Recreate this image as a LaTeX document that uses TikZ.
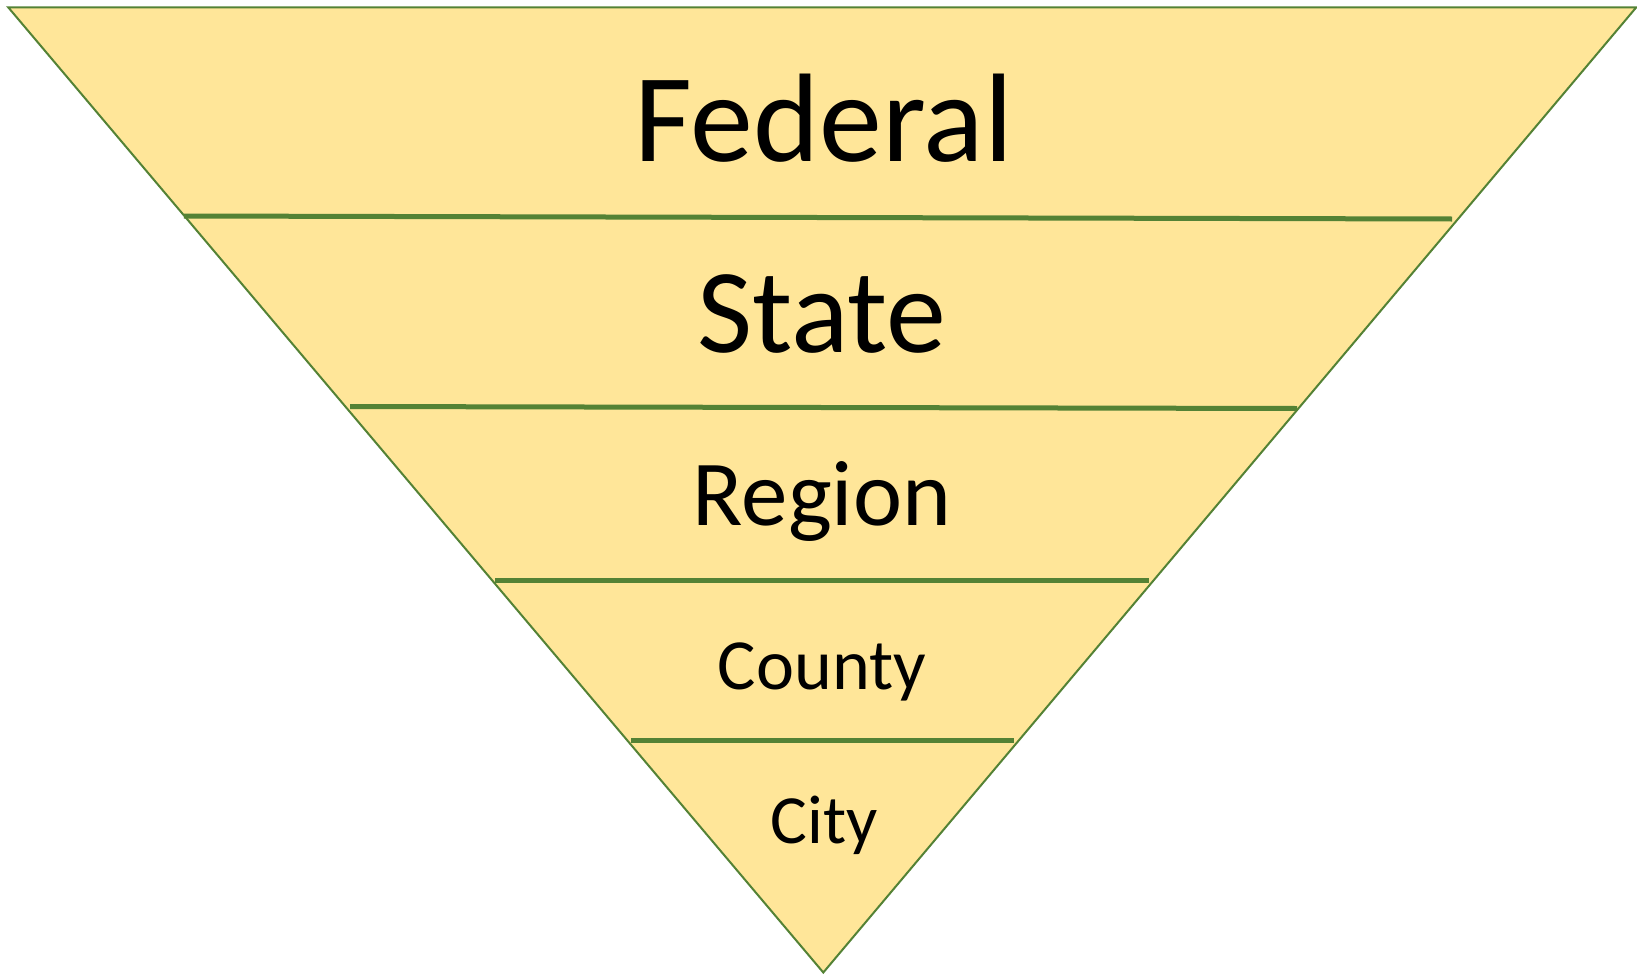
\documentclass[tikz,border=0pt]{standalone}
\usepackage{fontspec}
\setmainfont{Carlito}
\definecolor{fillgold}{HTML}{FFE699}
\definecolor{edgegreen}{HTML}{548235}
\begin{document}
\begin{tikzpicture}[x=1pt,y=-1pt,
  divider/.style={draw=edgegreen,line width=5pt},
  lvl/.style={anchor=base,inner sep=0pt,text=black}]
\useasboundingbox (0,0) rectangle (1637,974);
\coordinate (tl) at (8.3,7.4);
\coordinate (tr) at (1636.2,7.4);
\coordinate (ap) at (823.3,972.5);
\filldraw[fill=fillgold,draw=edgegreen,line width=2pt,line join=miter] (tl) -- (tr) -- (ap) -- cycle;
\coordinate (a1) at (184,216);   \coordinate (b1) at (1452,219);
\coordinate (a2) at (350,406.5); \coordinate (b2) at (1297,408.5);
\coordinate (a3) at (495,580);   \coordinate (b3) at (1149,580);
\coordinate (a4) at (631,740);   \coordinate (b4) at (1014,740);
\draw[divider] (a1) -- (b1);
\draw[divider] (a2) -- (b2);
\draw[divider] (a3) -- (b3);
\draw[divider] (a4) -- (b4);
\node[lvl,font=\fontsize{126}{126}\selectfont] (federal) at (824,161) {Federal};
\node[lvl,font=\fontsize{120}{120}\selectfont] (state) at (822,352) {State};
\node[lvl,font=\fontsize{93}{93}\selectfont] (region) at (822,525) {Region};
\node[lvl,font=\fontsize{72}{72}\selectfont] (county) at (822,689) {County};
\node[lvl,font=\fontsize{69}{69}\selectfont] (city) at (824,843) {City};
\end{tikzpicture}
\end{document}
